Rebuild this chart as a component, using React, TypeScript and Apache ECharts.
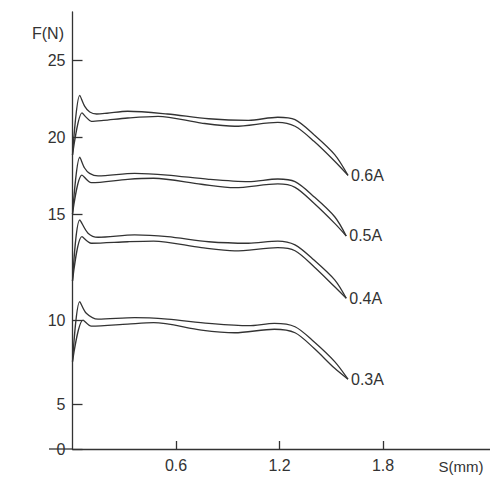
import React, { useEffect, useRef } from 'react';
import * as echarts from 'echarts';

// Tick labels of the (non-uniform) force axis and where they sit along the axis
const Y_TICKS = [0, 5, 10, 15, 20, 25];
const Y_TICK_POS = [0, 44.7, 128.3, 235, 311.7, 388.3];
const X_TICKS = [0.6, 1.2, 1.8];
const CURRENTS = ['0.6A', '0.5A', '0.4A', '0.3A'];

// [S (mm), F (N)]
const UP_06 = [[0, 18.85], [0.042, 22.74], [0.071, 22.02], [0.1, 21.65], [0.14, 21.52], [0.2, 21.57], [0.32, 21.7], [0.55, 21.52], [0.79, 21.21], [1.02, 21.11], [1.19, 21.31], [1.29, 21.15], [1.4, 20.17], [1.52, 18.87], [1.597, 17.52]];
const DN_06 = [[0, 18.85], [0.055, 21.59], [0.08, 21.3], [0.109, 21.04], [0.18, 21.1], [0.32, 21.26], [0.496, 21.37], [0.747, 20.93], [0.94, 20.72], [1.19, 20.98], [1.29, 20.72], [1.4, 19.74], [1.52, 18.44], [1.597, 17.52]];

const UP_05 = [[0, 15.0], [0.042, 18.7], [0.07, 18.0], [0.099, 17.65], [0.148, 17.48], [0.36, 17.65], [0.55, 17.54], [0.79, 17.26], [1.02, 17.11], [1.19, 17.28], [1.29, 17.11], [1.4, 16.13], [1.52, 14.87], [1.587, 13.97]];
const DN_05 = [[0, 15.0], [0.055, 17.54], [0.109, 17.04], [0.32, 17.26], [0.47, 17.33], [0.747, 16.94], [0.94, 16.72], [1.19, 16.96], [1.29, 16.74], [1.4, 15.7], [1.52, 14.56], [1.587, 13.97]];

const UP_04 = [[0, 11.86], [0.042, 14.72], [0.09, 14.1], [0.148, 13.91], [0.36, 14.02], [0.55, 13.94], [0.79, 13.7], [1.02, 13.63], [1.19, 13.73], [1.29, 13.55], [1.4, 12.84], [1.52, 11.91], [1.587, 11.05]];
const DN_04 = [[0, 11.86], [0.055, 13.94], [0.109, 13.63], [0.32, 13.7], [0.47, 13.73], [0.747, 13.42], [0.94, 13.27], [1.19, 13.42], [1.29, 13.28], [1.4, 12.53], [1.52, 11.59], [1.587, 11.05]];

const UP_03 = [[0, 7.55], [0.042, 10.89], [0.08, 10.35], [0.148, 10.07], [0.36, 10.14], [0.55, 10.07], [0.79, 9.84], [1.02, 9.7], [1.17, 9.84], [1.29, 9.64], [1.4, 8.74], [1.52, 7.55], [1.597, 6.5]];
const DN_03 = [[0, 7.55], [0.061, 10.03], [0.109, 9.68], [0.32, 9.8], [0.47, 9.88], [0.747, 9.44], [0.94, 9.28], [1.17, 9.49], [1.29, 9.28], [1.4, 8.35], [1.52, 7.15], [1.597, 6.5]];

const PAIRS = [
  [UP_06, DN_06],
  [UP_05, DN_05],
  [UP_04, DN_04],
  [UP_03, DN_03],
];

const Y_AXIS_LEN = 437;
const X_MAX = 417.5 / 172.5;

// piecewise-linear force scale (the figure's axis is not uniform)
function yPos(f: number): number {
  for (let i = 0; i < Y_TICKS.length - 1; i++) {
    if (f <= Y_TICKS[i + 1] || i === Y_TICKS.length - 2) {
      const t = (f - Y_TICKS[i]) / (Y_TICKS[i + 1] - Y_TICKS[i]);
      return Y_TICK_POS[i] + t * (Y_TICK_POS[i + 1] - Y_TICK_POS[i]);
    }
  }
  return 0;
}

const COLOR = '#333';
const FONT = '"Liberation Sans", Arial, sans-serif';

export default function App() {
  const ref = useRef<HTMLDivElement>(null);
  useEffect(() => {
    if (!ref.current) return;
    const chart = echarts.init(ref.current, null, { renderer: 'svg' });
    const series: any[] = [];
    PAIRS.forEach((pair, i) => {
      pair.forEach((arr, j) => {
        series.push({
          type: 'line',
          data: arr.map(([x, f]) => [x, yPos(f)]),
          showSymbol: false,
          smooth: 0.3,
          lineStyle: { color: COLOR, width: 1.3 },
          itemStyle: { color: COLOR },
          endLabel: j === 0 ? {
            show: true,
            formatter: CURRENTS[i],
            color: COLOR,
            fontSize: 16,
            fontFamily: FONT,
            distance: 3,
          } : { show: false },
          silent: true,
        });
      });
    });
    chart.setOption({
      animation: false,
      grid: { left: 72.5, right: 0, top: 12, bottom: 28, outerBoundsMode: 'none' },
      xAxis: {
        type: 'value',
        min: 0,
        max: X_MAX,
        axisLine: { lineStyle: { color: COLOR, width: 1.3 } },
        axisTick: { inside: true, length: 8, customValues: X_TICKS, lineStyle: { color: COLOR, width: 1.3 } },
        axisLabel: { customValues: X_TICKS, color: COLOR, fontSize: 16, fontFamily: FONT, margin: 8, formatter: (v: number) => v.toFixed(1) },
        splitLine: { show: false },
      },
      yAxis: {
        type: 'value',
        min: 0,
        max: Y_AXIS_LEN,
        axisLine: { show: true, lineStyle: { color: COLOR, width: 1.3 } },
        axisTick: { show: true, inside: true, length: 10, customValues: Y_TICK_POS, lineStyle: { color: COLOR, width: 1.3 } },
        axisLabel: {
          customValues: Y_TICK_POS,
          color: COLOR,
          fontSize: 16,
          fontFamily: FONT,
          margin: 7,
          formatter: (v: number) => {
            let best = 0;
            Y_TICK_POS.forEach((p, k) => { if (Math.abs(p - v) < Math.abs(Y_TICK_POS[best] - v)) best = k; });
            return String(Y_TICKS[best]);
          },
        },
        splitLine: { show: false },
      },
      graphic: [
        { type: 'line', shape: { x1: 49, y1: 449, x2: 72.5, y2: 449 }, style: { stroke: COLOR, lineWidth: 1.3 }, z: 0 },
        { type: 'text', x: 64, y: 33, style: { text: 'F(N)', fill: COLOR, fontSize: 16, fontFamily: FONT, align: 'right', verticalAlign: 'middle' } },
        { type: 'text', x: 461, y: 466, style: { text: 'S(mm)', fill: COLOR, fontSize: 15, fontFamily: FONT, align: 'center', verticalAlign: 'middle' } },
      ],
      series,
    });
    return () => chart.dispose();
  }, []);
  return <div ref={ref} style={{ width: 490, height: 477, position: 'absolute', left: 0, top: 0 }} />;
}
